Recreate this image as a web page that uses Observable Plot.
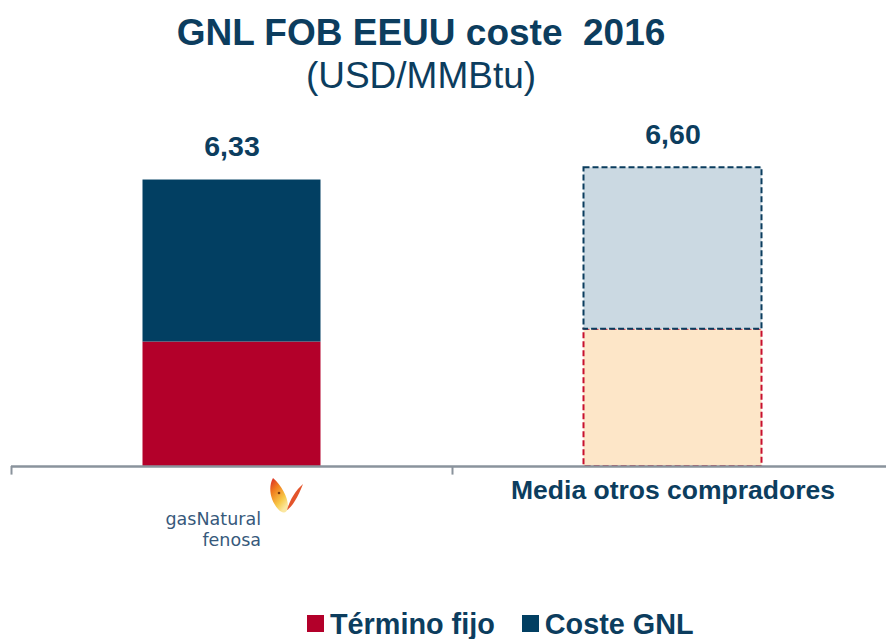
<!DOCTYPE html>
<html>
<head>
<meta charset="utf-8">
<script src="https://cdn.jsdelivr.net/npm/d3@7"></script>
<script src="https://cdn.jsdelivr.net/npm/@observablehq/plot@0.6"></script>
<style>
  html, body { margin: 0; padding: 0; background: #fff; }
  body { width: 886px; height: 639px; position: relative; overflow: hidden; font-family: "Liberation Sans", Arial, sans-serif; }
  .title { position: absolute; left: 0; width: 842px; text-align: center; color: #0c3d5e; white-space: pre; }
  #t1 { top: 13.7px; font-size: 37px; line-height: 37px; font-weight: bold; }
  #t2 { top: 56.7px; font-size: 37px; line-height: 37px; font-weight: normal; }
  #chart { position: absolute; left: 0; top: 0; }
  #legend { position: absolute; left: 307px; top: 610.5px; display: flex; align-items: center; font-size: 28.8px; line-height: 26px; font-weight: bold; color: #0c3d5e; white-space: nowrap; }
  #legend .sw { width: 17px; height: 17px; display: inline-block; margin-right: 6px; }
  #legend .item { display: flex; align-items: center; margin-right: 27px; }
  #butterfly { position: absolute; left: 267px; top: 477px; }
</style>
</head>
<body>
<div id="t1" class="title"></div>
<div id="t2" class="title"></div>
<div id="chart"></div>
<div id="legend"></div>
<svg id="butterfly" width="38" height="42" viewBox="0 0 38 42">
  <defs>
    <linearGradient id="wg" x1="0" y1="0" x2="0.6" y2="1">
      <stop offset="0" stop-color="#d8232a"/>
      <stop offset="0.35" stop-color="#f07c1e"/>
      <stop offset="0.75" stop-color="#f7c948"/>
      <stop offset="1" stop-color="#fbe7a0"/>
    </linearGradient>
  </defs>
  <path d="M6 1 C1 10, 3 23, 11 32 C15 37, 21 37, 21 29 C21 20, 14 8, 6 1 Z" fill="url(#wg)"/>
  <path d="M36 7 C29 13, 23 22, 20 33 C25 30, 31 20, 36 7 Z" fill="#e3542b"/>
  <circle cx="12" cy="16" r="1.3" fill="#7a3a10"/>
</svg>
<script>
// ---- data ----
const titleText = "GNL FOB EEUU coste  2016";
const subtitleText = "(USD/MMBtu)";
const categories = ["gasNatural fenosa", "Media otros compradores"];
const seriesNames = ["Término fijo", "Coste GNL"];
const terminoFijo = [2.75, 3.03];
const costeGNL = [3.58, 3.57];
const totals = [6.33, 6.60];
const logoLines = ["gasNatural", "fenosa"];

// ---- styles ----
const navyText = "#0c3d5e";
const fillColors = {
  "Término fijo": ["#b3002a", "#fde6c8"],
  "Coste GNL": ["#023f62", "#cbd9e2"]
};
const dashColors = { "Término fijo": "#c8102e", "Coste GNL": "#0b3d5e" };
const legendColors = ["#b3002a", "#023f62"];

document.getElementById("t1").textContent = titleText;
document.getElementById("t2").textContent = subtitleText;

const rows = categories.flatMap((c, i) => [
  { cat: c, idx: i, serie: seriesNames[0], value: terminoFijo[i] },
  { cat: c, idx: i, serie: seriesNames[1], value: costeGNL[i] }
]);

const W = 886, H = 639;
const mL = 11, mR = -7;
const step = (W - mL - mR) / categories.length;
const barW = 178;
const inset = (step - barW) / 2;
const fmt = v => v.toFixed(2).replace(".", ",");

const chart = Plot.plot({
  width: W,
  height: H,
  marginLeft: mL,
  marginRight: mR,
  marginTop: 167.3,
  marginBottom: 173,
  style: { background: "transparent", fontFamily: "'Liberation Sans', Arial, sans-serif", overflow: "visible" },
  x: { domain: categories, padding: 0, axis: null },
  y: { domain: [0, 6.6], axis: null },
  color: { type: "identity" },
  marks: [
    Plot.barY(rows.filter(d => d.idx === 0), {
      x: "cat", y: "value",
      fill: d => fillColors[d.serie][0],
      insetLeft: inset, insetRight: inset
    }),
    Plot.barY(rows.filter(d => d.idx === 1), {
      x: "cat", y: "value",
      fill: d => fillColors[d.serie][1],
      stroke: d => dashColors[d.serie],
      strokeWidth: 2,
      strokeDasharray: "6,3",
      insetLeft: inset, insetRight: inset
    }),
    Plot.ruleY([0], { stroke: "#8a939c", strokeWidth: 2.5 }),
    Plot.ruleX(categories, { x: d => d, dx: -step / 2, y1: 0, y2: -0.19, stroke: "#8a939c", strokeWidth: 2 }),
    Plot.text(categories, {
      x: d => d, y: (d, i) => totals[i],
      text: (d, i) => fmt(totals[i]),
      dy: -33, fontSize: 28.5, fontWeight: "bold", fill: navyText
    }),
    Plot.text([categories[1]], {
      x: d => d, frameAnchor: "bottom", text: d => d,
      dy: 32.5, fontSize: 26.5, fontWeight: "bold", fill: navyText
    }),
    Plot.text([categories[0]], {
      x: d => d, frameAnchor: "bottom", text: () => logoLines.join("\n"),
      textAnchor: "end", lineAnchor: "top", lineHeight: 1.2,
      dx: 29, dy: 44, fontSize: 17.5, fill: "#37597b",
      fontFamily: "'DejaVu Sans', sans-serif"
    })
  ]
});
document.getElementById("chart").appendChild(chart);

// legend
const legend = document.getElementById("legend");
seriesNames.forEach((s, i) => {
  const item = document.createElement("div");
  item.className = "item";
  const sw = document.createElement("span");
  sw.className = "sw";
  sw.style.background = legendColors[i];
  const lab = document.createElement("span");
  lab.textContent = s;
  item.appendChild(sw);
  item.appendChild(lab);
  legend.appendChild(item);
});
</script>
</body>
</html>
